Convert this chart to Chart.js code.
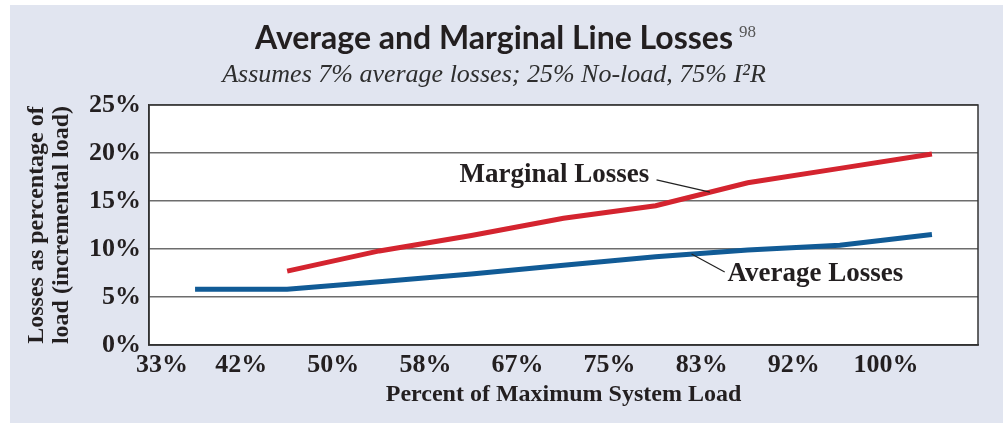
<!DOCTYPE html>
<html>
<head>
<meta charset="utf-8">
<script src="https://cdn.jsdelivr.net/npm/chart.js@4.4.1/dist/chart.umd.min.js"></script>
<style>
  html, body { margin: 0; padding: 0; background: #ffffff; }
  #panel { position: absolute; left: 10px; top: 5px; width: 993px; height: 418px; background: #e1e5f0; }
</style>
</head>
<body>
<div id="panel"><canvas id="chart"></canvas></div>
<script>
// Chart data
const categories = ['33%', '42%', '50%', '58%', '67%', '75%', '83%', '92%', '100%']
const averageLosses = [5.8, 5.8, 6.6, 7.4, 8.3, 9.2, 9.9, 10.4, 11.5]
const marginalLosses = [null, 7.7, 9.8, 11.4, 13.2, 14.5, 16.9, 18.4, 19.9]
const yTickStep = 5
const yMax = 25

const textColor = '#231f20'
const serif = "'Liberation Serif', 'DejaVu Serif', serif"

// interpolate a series at a fractional category index
const valueAt = (series, idx) => {
  const i = Math.floor(idx)
  const t = idx - i
  const a = series[i]
  const b = series[Math.min(i + 1, series.length - 1)]
  return a + (b - a) * t
}

// Labels with leader lines, anchored in data units
const callouts = [
  { text: 'Marginal Losses', series: marginalLosses, textAt: [4.93, 17.7], align: 'right', from: [5.01, 17.2], to: 5.59 },
  { text: 'Average Losses', series: averageLosses, textAt: [5.78, 7.4], align: 'left', from: [5.75, 7.6], to: 5.39 },
]

const plotFrame = {
  id: 'plotFrame',
  beforeDraw(chart) {
    const { ctx, chartArea: a } = chart
    ctx.save()
    ctx.fillStyle = '#ffffff'
    ctx.fillRect(a.left, a.top, a.right - a.left, a.bottom - a.top)
    ctx.restore()
  },
  afterDatasetsDraw(chart) {
    const { ctx, chartArea: a, scales: { x, y } } = chart
    ctx.save()
    ctx.strokeStyle = '#333333'
    ctx.lineWidth = 1.5
    ctx.strokeRect(a.left, a.top, a.right - a.left, a.bottom - a.top)

    // callouts
    ctx.font = 'bold 27px ' + serif
    ctx.fillStyle = textColor
    ctx.textBaseline = 'middle'
    ctx.lineWidth = 1.2
    ctx.strokeStyle = '#222222'
    callouts.forEach((c) => {
      ctx.textAlign = c.align
      ctx.fillText(c.text, x.getPixelForValue(c.textAt[0]), y.getPixelForValue(c.textAt[1]))
      ctx.beginPath()
      ctx.moveTo(x.getPixelForValue(c.from[0]), y.getPixelForValue(c.from[1]))
      ctx.lineTo(x.getPixelForValue(c.to), y.getPixelForValue(valueAt(c.series, c.to)))
      ctx.stroke()
    })
    ctx.restore()
  },
  afterDraw(chart) {
    // footnote marker next to the title
    const { ctx } = chart
    const tb = chart.titleBlock
    if (!tb) return
    const opts = chart.options.plugins.title
    ctx.save()
    ctx.font = `bold ${opts.font.size}px ${opts.font.family}`
    const w = ctx.measureText(opts.text).width
    const cx = (tb.left + tb.right) / 2
    const cy = tb.top + opts.padding.top + opts.font.size / 2
    ctx.font = '17px ' + serif
    ctx.fillStyle = '#555555'
    ctx.textAlign = 'left'
    ctx.textBaseline = 'middle'
    ctx.fillText('98', cx + w / 2 + 6, cy - 6)
    ctx.restore()
  },
}

new Chart(document.getElementById('chart'), {
  type: 'line',
  data: {
    labels: categories,
    datasets: [
      {
        label: 'Marginal Losses',
        data: marginalLosses,
        borderColor: '#d4242f',
        borderWidth: 5,
        pointRadius: 0,
        tension: 0,
      },
      {
        label: 'Average Losses',
        data: averageLosses,
        borderColor: '#115b96',
        borderWidth: 5,
        pointRadius: 0,
        tension: 0,
      },
    ],
  },
  options: {
    responsive: true,
    maintainAspectRatio: false,
    animation: false,
    layout: { padding: { left: 0, right: 25, top: 0, bottom: 0 } },
    plugins: {
      legend: { display: false },
      tooltip: { enabled: false },
      title: {
        display: true,
        text: 'Average and Marginal Line Losses',
        color: textColor,
        font: { family: "Lato, 'Open Sans', sans-serif", weight: 'bold', size: 32, lineHeight: 1 },
        padding: { top: 18, bottom: 0 },
      },
      subtitle: {
        display: true,
        text: 'Assumes 7% average losses; 25% No-load, 75% I\u00b2R',
        color: '#2e2e2e',
        font: { family: serif, style: 'italic', size: 26, lineHeight: 1 },
        padding: { top: 7, bottom: 17 },
      },
    },
    scales: {
      x: {
        offset: true,
        afterFit: (scale) => { scale.height = 78 },
        grid: { display: false, drawTicks: false },
        border: { display: true, color: '#333333', width: 1.5 },
        ticks: {
          color: textColor,
          font: { family: serif, weight: 'bold', size: 26 },
          padding: 5,
          labelOffset: -46,
          maxRotation: 0,
          autoSkip: false,
          callback: (v, i) => (i === 0 ? '\u2003' : '') + categories[i],
        },
        title: {
          display: true,
          text: 'Percent of Maximum System Load',
          color: textColor,
          font: { family: serif, weight: 'bold', size: 24, lineHeight: 1.2 },
          padding: { top: 0, bottom: 14 },
        },
      },
      y: {
        min: 0,
        max: yMax,
        afterFit: (scale) => { scale.width = 139 },
        grid: { color: '#6d6d6d', lineWidth: 1.5, drawTicks: false },
        border: { display: true, color: '#333333', width: 1.5 },
        ticks: {
          stepSize: yTickStep,
          color: textColor,
          font: { family: serif, weight: 'bold', size: 26 },
          padding: 8,
          callback: (v) => v + '%',
        },
        title: {
          display: true,
          text: ['Losses as percentage of', 'load (incremental load)'],
          color: textColor,
          font: { family: serif, weight: 'bold', size: 24, lineHeight: 1.05 },
          padding: { top: 14, bottom: 0 },
        },
      },
    },
  },
  plugins: [plotFrame],
})
</script>
</body>
</html>
